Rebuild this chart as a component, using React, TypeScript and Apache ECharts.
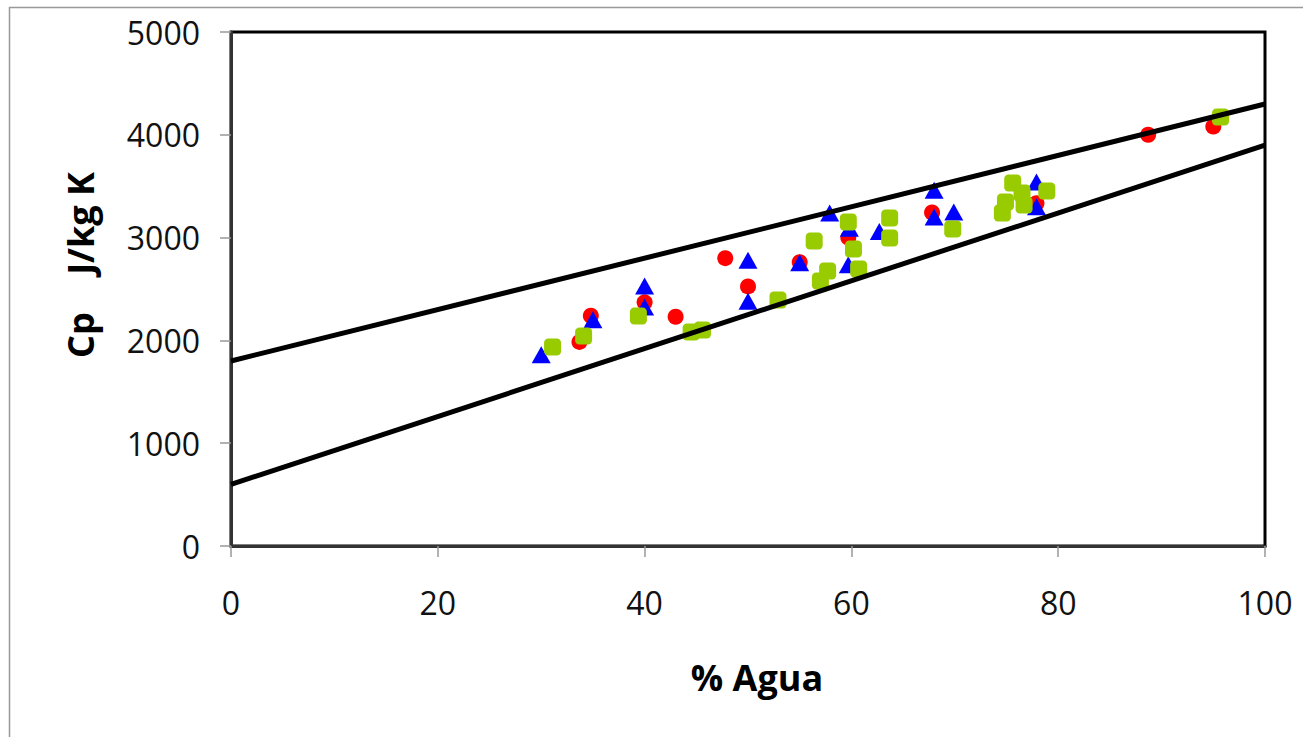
import React, { useEffect, useRef } from "react";
import * as echarts from "echarts";

const xTicks = [0, 20, 40, 60, 80, 100];
const yTicks = [0, 1000, 2000, 3000, 4000, 5000];

const redCircles: [number, number][] = [
  [33.7, 1985], [34.8, 2240], [40, 2370], [43, 2230], [47.8, 2800], [50, 2525],
  [55, 2760], [59.7, 3000], [67.8, 3245], [77.9, 3335], [88.7, 4000], [95, 4080],
];

const blueTriangles: [number, number][] = [
  [30, 1860], [35, 2200], [40, 2530], [40, 2325], [50, 2780], [50, 2380],
  [55, 2755], [57.9, 3240], [59.8, 3090], [59.7, 2735], [62.7, 3060], [68, 3460],
  [68, 3200], [69.9, 3250], [77.9, 3540], [77.9, 3300],
];

const greenSquares: [number, number][] = [
  [31.1, 1936], [34.1, 2043], [39.4, 2237], [44.5, 2082], [45.6, 2101], [52.9, 2393],
  [56.4, 2967], [57.7, 2675], [57, 2578], [59.7, 3152], [60.2, 2889], [60.7, 2694],
  [63.7, 3190], [63.7, 2996], [69.8, 3084], [75.6, 3531], [74.9, 3346], [74.6, 3239],
  [76.5, 3434], [76.7, 3317], [78.9, 3453], [95.7, 4173],
];

const upperLine: [number, number][] = [[0, 1800], [100, 4300]];
const lowerLine: [number, number][] = [[0, 600], [100, 3900]];

const FONT = "'Open Sans', 'Noto Sans', sans-serif";

export default function App() {
  const ref = useRef<HTMLDivElement>(null);
  useEffect(() => {
    if (!ref.current) return;
    const chart = echarts.init(ref.current, undefined, { renderer: "svg" });
    chart.setOption({
      animation: false,
      backgroundColor: "#fff",
      grid: {
        left: 231, top: 32, right: 38, bottom: 191,
        show: true, borderColor: "#000", borderWidth: 3, backgroundColor: "transparent",
      },
      xAxis: {
        type: "value", min: xTicks[0], max: xTicks[xTicks.length - 1], interval: 20,
        axisLine: { show: true, onZero: false, lineStyle: { color: "#333", width: 3 } },
        axisTick: { show: true, inside: false, length: 11, lineStyle: { color: "#999", width: 1.5 } },
        axisLabel: {
          margin: 40, fontSize: 32, color: "#111", fontFamily: FONT,
          formatter: (v: number) => String(v),
        },
        splitLine: { show: false },
      },
      yAxis: {
        type: "value", min: yTicks[0], max: yTicks[yTicks.length - 1], interval: 1000,
        axisLine: { show: true, onZero: false, lineStyle: { color: "#333", width: 3 } },
        axisTick: { show: true, inside: false, length: 11, lineStyle: { color: "#999", width: 1.5 } },
        axisLabel: {
          margin: 31, fontSize: 32, color: "#111", fontFamily: FONT,
          formatter: (v: number) => String(v),
        },
        splitLine: { show: false },
      },
      graphic: [
        {
          type: "rect", silent: true,
          shape: { x: 9.5, y: 7.5, width: 1400, height: 800 },
          style: { fill: "none", stroke: "#999", lineWidth: 1.5 },
        },
        {
          type: "text", x: 757, y: 677,
          style: {
            text: "% Agua", fontSize: 36, fontWeight: "bold", fontFamily: FONT,
            fill: "#000", align: "center", verticalAlign: "middle",
          },
        },
        {
          type: "text", x: 80, y: 265, rotation: Math.PI / 2,
          style: {
            text: "Cp    J/kg K", fontSize: 36, fontWeight: "bold", fontFamily: FONT,
            fill: "#000", align: "center", verticalAlign: "middle",
          },
        },
      ],
      series: [
        {
          type: "scatter", data: redCircles, symbol: "circle", symbolSize: 16,
          itemStyle: { color: "#FF0000", opacity: 1 }, z: 2,
        },
        {
          type: "scatter", data: blueTriangles, symbol: "triangle", symbolSize: [19, 17],
          itemStyle: { color: "#0000FF", opacity: 1 }, z: 3,
        },
        {
          type: "scatter", data: greenSquares, symbol: "roundRect", symbolSize: 17,
          itemStyle: { color: "#99CC00", opacity: 1 }, z: 4,
        },
        {
          type: "line", data: upperLine, symbol: "none", z: 5,
          lineStyle: { color: "#000", width: 5 },
        },
        {
          type: "line", data: lowerLine, symbol: "none", z: 5,
          lineStyle: { color: "#000", width: 5 },
        },
      ],
    });
    return () => chart.dispose();
  }, []);
  return (
    <div
      ref={ref}
      style={{ position: "absolute", left: 0, top: 0, width: 1303, height: 737 }}
    />
  );
}
